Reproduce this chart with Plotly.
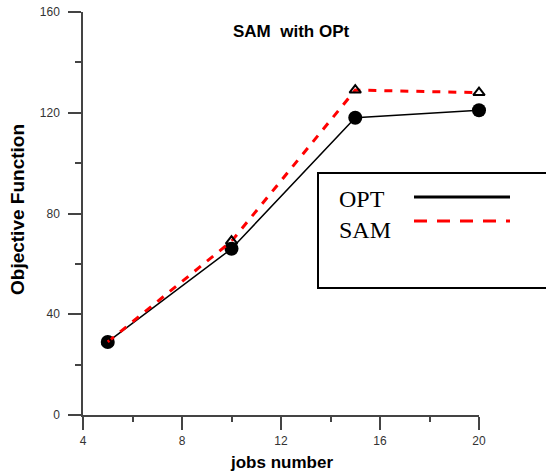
import plotly.graph_objects as go

# Objective function values per number of jobs
jobs = [5, 10, 15, 20]
opt_values = [29, 66, 118, 121]
sam_values = [29, 69, 129, 128]

series_names = ["OPT", "SAM"]
x_ticks = [4, 8, 12, 16, 20]
y_ticks = [0, 40, 80, 120, 160]

W, H = 546, 474
L, R, T, B = 83, 67, 12, 59
AXIS = "#444444"


def px_x(p):
    return (p - L) / (W - L - R)


def px_y(p):
    return (H - B - p) / (H - T - B)


fig = go.Figure()

fig.add_trace(go.Scatter(
    x=jobs, y=opt_values, mode="lines+markers", name=series_names[0],
    line=dict(color="black", width=1.5),
    marker=dict(symbol="circle", size=14, color="black"),
    showlegend=False, cliponaxis=False,
))
fig.add_trace(go.Scatter(
    x=jobs, y=sam_values, mode="lines", name=series_names[1],
    line=dict(color="#ff0000", width=3, dash="8px,8px"),
    showlegend=False, cliponaxis=False,
))
fig.add_trace(go.Scatter(
    x=jobs, y=sam_values, mode="markers", name=series_names[1],
    marker=dict(symbol="triangle-up-open", size=10, color="black",
                line=dict(width=2, color="black")),
    showlegend=False, hoverinfo="skip", cliponaxis=False,
))

axis_common = dict(
    showgrid=False, zeroline=False, showline=True, linecolor=AXIS, linewidth=1.5,
    ticks="outside", ticklen=13, tickwidth=1.5, tickcolor=AXIS,
    tickfont=dict(family="Liberation Sans, Arial", size=12, color="#333333"),
    mirror=False, automargin=False,
)

fig.update_xaxes(range=[4, 20], tickvals=x_ticks, ticklabelstandoff=1,
                 minor=dict(ticks="outside", ticklen=5, dtick=2, tickcolor=AXIS, tickwidth=1.5),
                 **axis_common)
fig.update_yaxes(range=[0, 160], tickvals=y_ticks, ticklabelstandoff=6,
                 minor=dict(ticks="outside", ticklen=6, dtick=20, tickcolor=AXIS, tickwidth=1.5),
                 **axis_common)

# Hand-drawn legend box with line samples
box = dict(x0=318, x1=560, y0=173, y1=288)
rows = [(197, 199, "black", "solid"), (221, 230, "#ff0000", "13px,10px")]
shapes = [dict(type="rect", xref="paper", yref="paper",
               x0=px_x(box["x0"]), x1=px_x(box["x1"]),
               y0=px_y(box["y1"]), y1=px_y(box["y0"]),
               line=dict(color="black", width=2), fillcolor="rgba(0,0,0,0)")]
annotations = []
for (py, ty, color, dash), name in zip(rows, series_names):
    shapes.append(dict(type="line", xref="paper", yref="paper",
                       x0=px_x(414), x1=px_x(510), y0=px_y(py), y1=px_y(py),
                       line=dict(color=color, width=3, dash=dash)))
    annotations.append(dict(text=name, xref="paper", yref="paper",
                            x=px_x(337), y=px_y(ty), xanchor="left", yanchor="middle",
                            showarrow=False,
                            font=dict(family="Liberation Serif, Times New Roman", size=24,
                                      color="black")))

bold = dict(family="Liberation Sans, Arial", size=17, color="black", weight="bold")
annotations.append(dict(text="SAM  with OPt", xref="paper", yref="paper",
                        x=px_x(291), y=px_y(31), xanchor="center", yanchor="middle",
                        showarrow=False, font=bold))
annotations.append(dict(text="jobs number", xref="paper", yref="paper",
                        x=px_x(281), y=px_y(462), xanchor="center", yanchor="middle",
                        showarrow=False, font=bold))
annotations.append(dict(text="Objective Function", xref="paper", yref="paper",
                        x=px_x(17), y=px_y(210), xanchor="center", yanchor="middle",
                        textangle=-90, showarrow=False, font={**bold, "size": 19}))

fig.update_layout(
    width=W, height=H,
    margin=dict(l=L, r=R, t=T, b=B),
    paper_bgcolor="white", plot_bgcolor="white",
    shapes=shapes, annotations=annotations,
    showlegend=False,
)

fig.write_html("out.html")
